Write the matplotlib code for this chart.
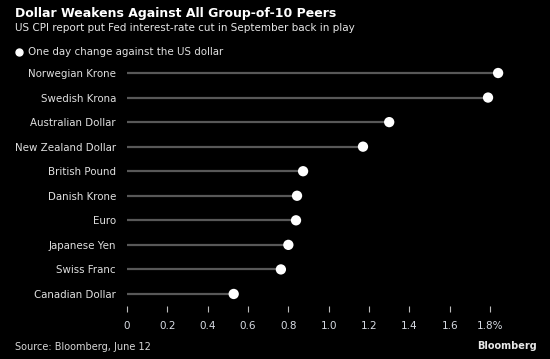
import matplotlib
matplotlib.use("Agg")
import matplotlib.pyplot as plt
from matplotlib.lines import Line2D

currencies = ["Norwegian Krone", "Swedish Krona", "Australian Dollar", "New Zealand Dollar",
              "British Pound", "Danish Krone", "Euro", "Japanese Yen", "Swiss Franc", "Canadian Dollar"]
changes = [1.84, 1.79, 1.30, 1.17, 0.873, 0.843, 0.838, 0.80, 0.763, 0.529]
xticks = [0, 0.2, 0.4, 0.6, 0.8, 1.0, 1.2, 1.4, 1.6, 1.8]
xticklabels = ["0", "0.2", "0.4", "0.6", "0.8", "1.0", "1.2", "1.4", "1.6", "1.8%"]

W, H = 550, 359
fig = plt.figure(figsize=(W/100, H/100), dpi=100, facecolor="black")
ax_left, ax_right = 127, 520.3
ax_top, ax_bot = 60, 306
ax = fig.add_axes([ax_left/W, 1-ax_bot/H, (ax_right-ax_left)/W, (ax_bot-ax_top)/H])
ax.set_facecolor("black")

n = len(currencies)
ypos = list(range(n-1, -1, -1))
ax.hlines(ypos, 0, changes, color="#585858", lw=1.6, zorder=1)
ax.scatter(changes, ypos, s=55, color="white", zorder=2, edgecolors="none")

ax.set_xlim(0, 1.95)
ax.set_ylim(-0.49, 9.53)
ax.set_yticks(ypos)
ax.set_yticklabels(currencies, fontsize=7.4, color="#e0e0e0")
ax.tick_params(axis="y", length=0, pad=8)
ax.set_xticks(xticks)
ax.set_xticklabels(xticklabels, fontsize=7.5, color="#d8dce4")
ax.tick_params(axis="x", length=4, width=0.8, color="#bbbbbb", pad=7, direction="out")
for s in ax.spines.values():
    s.set_visible(False)

fig.text(15/W, 1-13/H, "Dollar Weakens Against All Group-of-10 Peers", fontsize=9, fontweight="bold",
         color="white", va="center", ha="left")
fig.text(15/W, 1-28/H, "US CPI report put Fed interest-rate cut in September back in play", fontsize=7.5,
         color="#e6e6e6", va="center", ha="left")
fig.add_artist(Line2D([19/W], [1-52/H], marker="o", markersize=5, color="white", linestyle="none",
                      transform=fig.transFigure))
fig.text(28/W, 1-52/H, "One day change against the US dollar", fontsize=7.4, color="#e0e0e0",
         va="center", ha="left")
fig.text(15/W, 1-347/H, "Source: Bloomberg, June 12", fontsize=7, color="#d8d8d8", va="center", ha="left")
fig.text(537/W, 1-346/H, "Bloomberg", fontsize=7, color="#e8e8e8", va="center", ha="right", fontweight="bold")

fig.savefig("out.png", dpi=100, facecolor="black")
